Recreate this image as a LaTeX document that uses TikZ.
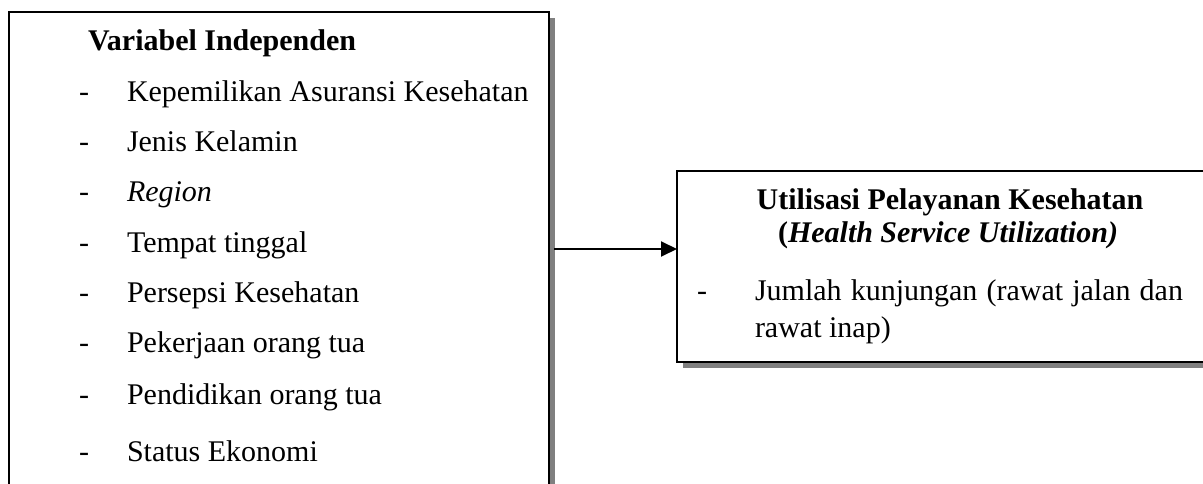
\documentclass[tikz,border=0pt]{standalone}
\usepackage{fontspec}
\setmainfont{Liberation Serif}
\usetikzlibrary{arrows.meta,shadows}
\begin{document}
\begin{tikzpicture}[x=1pt,y=-1pt,
  every node/.style={inner sep=0pt,outer sep=0pt,font=\fontsize{30}{36}\selectfont},
  shadowbox/.style={draw=black,line width=2pt,fill=white,
    drop shadow={shadow xshift=6pt,shadow yshift=-6pt,fill=black!50,opacity=1}},
  txt/.style={anchor=base west},
  ctxt/.style={anchor=base},
  conn/.style={line width=2pt,-{Triangle[length=16pt,width=15pt]}}]
\useasboundingbox (0,0) rectangle (1203,484);
\clip (0,0) rectangle (1203,484);
% boxes
\node[shadowbox,minimum width=540pt,minimum height=520pt] (L) at (279,272) {};
\node[shadowbox,minimum width=540pt,minimum height=191pt] (R) at (947,266.5) {};
% left box text
\node[txt] (lt) at (88,51) {\textbf{Variabel Independen}};
\node[txt] (d1) at (79,102) {-};
\node[txt] (i1) at (127,102) {Kepemilikan Asuransi Kesehatan};
\node[txt] (d2) at (79,152) {-};
\node[txt] (i2) at (127,152) {Jenis Kelamin};
\node[txt] (d3) at (79,202) {-};
\node[txt] (i3) at (127,202) {\textit{Region}};
\node[txt] (d4) at (79,252) {-};
\node[txt] (i4) at (127,252) {Tempat tinggal};
\node[txt] (d5) at (79,302) {-};
\node[txt] (i5) at (127,302) {Persepsi Kesehatan};
\node[txt] (d6) at (79,352) {-};
\node[txt] (i6) at (127,352) {Pekerjaan orang tua};
\node[txt] (d7) at (79,404) {-};
\node[txt] (i7) at (127,404) {Pendidikan orang tua};
\node[txt] (d8) at (79,461) {-};
\node[txt] (i8) at (127,461) {Status Ekonomi};
% right box text
\node[ctxt] (rt1) at (950,209) {\textbf{Utilisasi Pelayanan Kesehatan}};
\node[ctxt] (rt2) at (948,242) {\textbf{(\textit{Health Service Utilization)}}};
\node[txt] (rd) at (697,300) {-};
\node[txt] (r1) at (755,300) {\makebox[428pt][s]{Jumlah kunjungan (rawat jalan dan}};
\node[txt] (r2) at (755,337) {rawat inap)};
% connector
\coordinate (a1) at (554,249);
\draw[conn] (a1) -- (R.west |- a1);
\end{tikzpicture}
\end{document}
